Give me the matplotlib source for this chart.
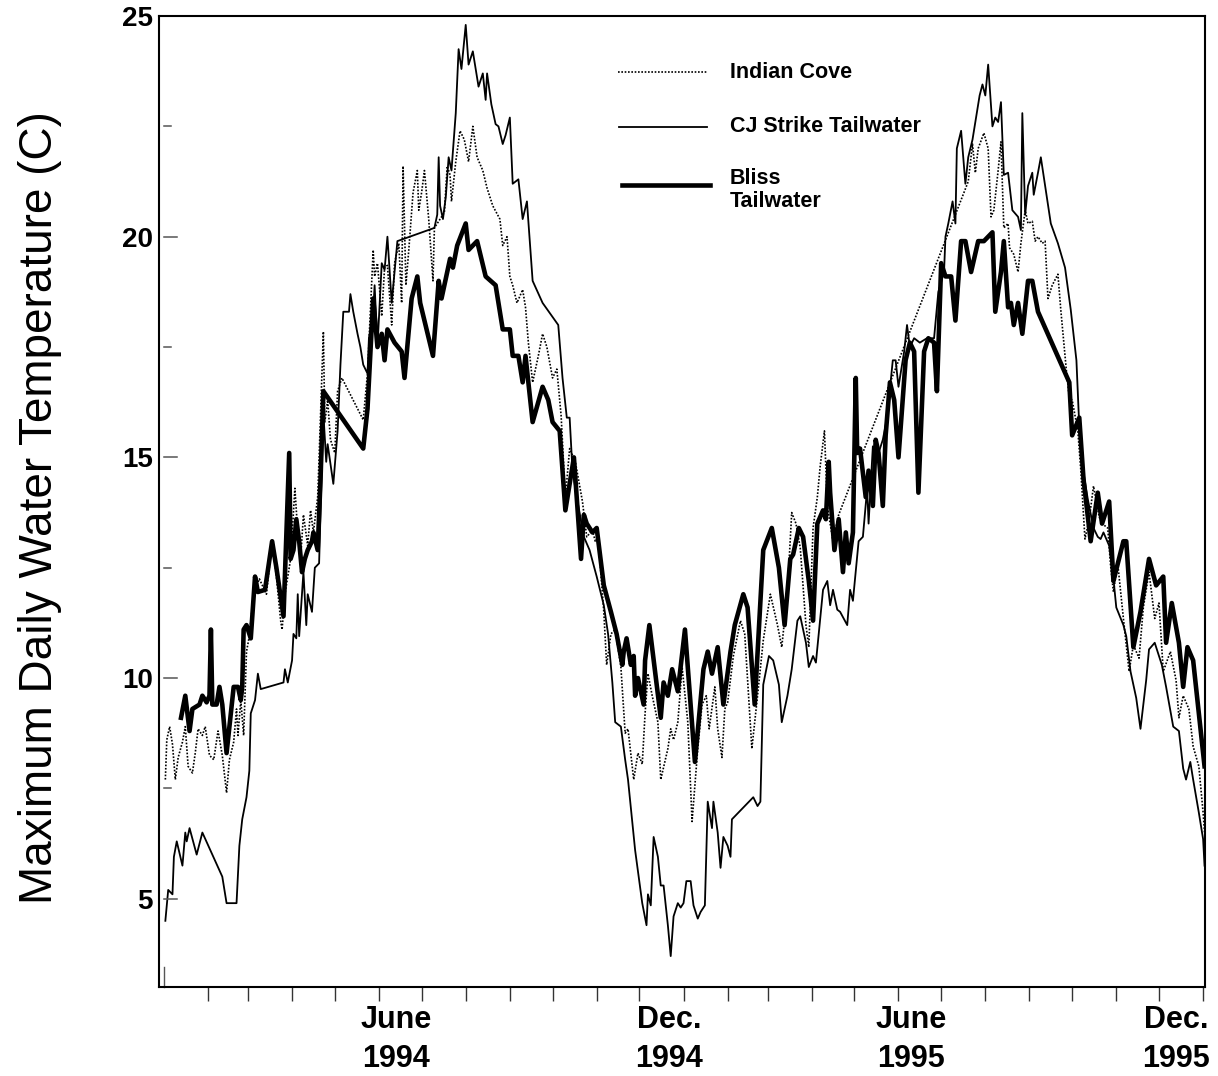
import matplotlib
matplotlib.use("Agg")
import matplotlib.pyplot as plt
import matplotlib.dates as mdates
from matplotlib.lines import Line2D
import pandas as pd

# Maximum daily water temperature at three Snake River sites, 1994-1995
# x values are days counted from 1 Jan 1994

cove_days = [1, 2, 4, 6, 8, 10, 13, 15, 17, 20, 22, 24, 27, 29, 32, 35, 38, 41, 44, 46, 49, 51, 52, 54, 56, 58, 60,
             63, 67, 72, 76, 79, 82, 83, 85, 89, 92, 94, 96, 98, 101, 103, 105, 108, 109, 112, 113, 115, 117, 120,
             122, 125, 140, 143, 147, 148, 150, 153, 155, 157, 160, 162, 165, 167, 168, 170, 172, 175, 178, 179,
             181, 183, 186, 189, 190, 194, 197, 199, 201, 202, 205, 208, 211, 214, 217, 220, 224, 227, 231, 236,
             238, 241, 243, 245, 248, 252, 254, 256, 259, 263, 266, 269, 273, 276, 279, 282, 285, 289, 294, 297,
             301, 303, 305, 309, 311, 314, 317, 321, 324, 326, 330, 333, 336, 338, 340, 343, 347, 349, 354, 356,
             358, 361, 364, 368, 371, 375, 378, 381, 383, 387, 389, 392, 394, 396, 400, 405, 408, 413, 417, 421,
             426, 431, 434, 438, 441, 444, 447, 451, 453, 456, 459, 461, 464, 466, 470, 474, 565, 568, 570, 572,
             576, 579, 581, 583, 586, 588, 590, 593, 594, 597, 600, 602, 605, 607, 610, 612, 614, 617, 619, 621,
             624, 628, 630, 634, 636, 638, 642, 644, 647, 650, 653, 657, 659, 663, 665, 667, 670, 674, 678, 681,
             685, 688, 692, 696, 699, 702, 707, 711, 713, 716, 720, 723, 727, 730, 731]
cove_temp = [7.7, 8.6, 8.9, 8.5, 7.7, 8.2, 8.55, 8.9, 8.0, 7.85, 8.3, 8.85, 8.7, 8.9, 8.25, 8.15, 8.8, 8.25, 7.4, 8.15,
             8.55, 9.3, 8.7, 9.5, 8.7, 10.6, 10.95, 11.9, 12.25, 11.9, 13.1, 12.3, 11.3, 11.1, 11.9, 12.7, 14.3,
             13.3, 12.7, 13.7, 13.0, 13.8, 13.3, 14.1, 15.0, 17.85, 15.8, 16.3, 15.4, 15.1, 16.5, 16.8, 15.85,
             16.9, 19.7, 19.1, 19.4, 18.2, 19.3, 19.35, 18.0, 19.4, 19.85, 18.5, 21.6, 18.9, 19.7, 21.0, 21.5,
             20.6, 21.0, 21.5, 20.4, 19.0, 20.2, 20.4, 20.55, 21.6, 21.4, 20.8, 21.7, 22.4, 22.2, 21.7, 22.5, 21.8,
             21.5, 21.1, 20.7, 20.4, 19.8, 20.0, 19.1, 18.9, 18.5, 18.8, 18.4, 17.6, 16.7, 17.3, 17.8, 17.5, 16.8,
             17.0, 15.95, 14.1, 15.2, 14.9, 14.0, 13.2, 13.35, 13.1, 13.2, 11.5, 10.3, 11.0, 11.1, 10.25, 8.75,
             8.85, 7.7, 8.3, 8.05, 9.2, 10.1, 9.6, 9.0, 7.7, 8.4, 8.85, 8.6, 9.0, 10.25, 9.0, 6.75, 8.4, 9.4, 9.6,
             8.85, 9.8, 8.85, 8.2, 9.3, 9.45, 10.5, 11.3, 11.0, 8.4, 9.6, 10.85, 11.9, 11.2, 10.7, 11.95, 13.75,
             13.5, 12.95, 11.2, 10.7, 13.4, 14.1, 14.8, 15.6, 13.9, 13.1, 13.7, 21.25, 22.1, 21.45, 22.0, 22.35,
             22.0, 20.45, 20.6, 21.5, 22.15, 20.2, 20.3, 19.75, 19.6, 19.2, 19.85, 20.6, 20.3, 20.35, 19.9, 20.0,
             19.85, 19.9, 18.6, 18.9, 19.15, 18.35, 16.95, 16.35, 16.3, 15.6, 14.75, 13.15, 13.6, 14.35, 13.65,
             13.5, 13.4, 12.55, 11.95, 12.6, 11.35, 10.15, 10.75, 10.45, 11.6, 12.4, 11.35, 11.7, 10.15, 10.6,
             9.95, 9.1, 9.6, 9.3, 8.45, 8.0, 6.95, 6.5]

cj_days = [1, 3, 6, 7, 9, 13, 15, 16, 18, 23, 27, 41, 44, 51, 53, 55, 58, 60, 61, 64, 66, 68, 84, 85, 87, 90, 91, 93,
           94, 95, 98, 100, 101, 104, 106, 109, 112, 114, 115, 119, 122, 124, 126, 130, 131, 133, 136, 138, 140,
           143, 144, 147, 148, 150, 153, 155, 157, 160, 164, 190, 192, 193, 194, 196, 198, 200, 202, 205, 207,
           209, 212, 214, 217, 221, 224, 226, 227, 230, 233, 235, 238, 240, 243, 245, 249, 252, 255, 259, 266,
           277, 280, 283, 285, 287, 290, 295, 299, 304, 309, 312, 315, 317, 321, 324, 326, 331, 336, 339, 340,
           342, 344, 347, 349, 351, 354, 356, 358, 361, 363, 365, 367, 370, 372, 375, 377, 380, 382, 385, 386,
           389, 391, 393, 396, 398, 399, 414, 417, 419, 421, 425, 428, 432, 434, 438, 441, 445, 447, 451, 453,
           456, 458, 460, 463, 466, 468, 470, 473, 475, 480, 482, 484, 488, 491, 494, 495, 498, 502, 505, 508,
           512, 514, 516, 520, 522, 524, 527, 531, 536, 541, 544, 548, 549, 551, 554, 556, 557, 560, 563, 565,
           568, 571, 573, 575, 577, 579, 582, 584, 586, 588, 590, 593, 596, 600, 602, 603, 605, 607, 610, 611,
           614, 616, 620, 623, 628, 633, 637, 641, 643, 646, 649, 653, 656, 658, 660, 664, 667, 669, 674, 676,
           679, 683, 686, 690, 692, 696, 701, 704, 709, 713, 716, 718, 721, 723, 727, 730, 731]
cj_temp = [4.5, 5.2, 5.1, 5.95, 6.3, 5.75, 6.5, 6.3, 6.6, 6.0, 6.5, 5.5, 4.9, 4.9, 6.2, 6.8, 7.3, 7.9, 9.2, 9.5,
           10.1, 9.75, 9.9, 10.2, 9.9, 10.4, 11.0, 10.9, 11.9, 10.95, 12.4, 11.2, 11.9, 11.5, 12.5, 12.6, 16.0,
           14.9, 15.3, 14.4, 15.6, 17.1, 18.3, 18.3, 18.7, 18.3, 17.8, 17.5, 17.1, 16.9, 17.7, 18.3, 18.9, 17.5,
           19.4, 19.25, 20.0, 18.5, 19.9, 20.2, 20.5, 21.8, 20.7, 20.4, 20.9, 21.8, 21.5, 22.8, 24.25, 23.8,
           24.8, 23.9, 24.2, 23.4, 23.7, 23.1, 23.7, 23.0, 22.55, 22.5, 22.1, 22.3, 22.7, 21.2, 21.3, 20.4,
           20.8, 19.0, 18.5, 18.0, 16.8, 15.9, 15.9, 14.7, 14.1, 13.2, 12.9, 12.3, 11.65, 11.0, 9.9, 9.0, 8.9,
           8.15, 7.7, 6.1, 4.9, 4.4, 5.1, 4.85, 6.4, 5.95, 5.3, 5.3, 4.4, 3.7, 4.6, 4.9, 4.8, 4.9, 5.4, 5.4,
           4.85, 4.55, 4.7, 4.85, 7.2, 6.6, 7.2, 6.5, 5.7, 6.4, 6.2, 5.95, 6.8, 7.3, 7.1, 7.2, 9.85, 10.5, 10.4,
           9.85, 9.0, 9.6, 10.2, 11.3, 11.4, 10.8, 10.25, 10.5, 10.35, 11.0, 12.0, 12.2, 11.65, 12.0, 11.55,
           11.5, 11.2, 12.0, 11.75, 13.1, 13.2, 14.3, 13.5, 15.25, 15.1, 15.4, 15.9, 17.2, 17.2, 16.6, 17.4,
           18.0, 17.5, 17.7, 17.6, 17.7, 17.7, 18.75, 19.2, 20.0, 20.3, 20.8, 20.3, 22.0, 22.4, 21.2, 21.8,
           22.2, 22.8, 23.2, 23.45, 23.2, 23.9, 22.5, 22.7, 22.6, 23.05, 21.4, 21.45, 20.6, 20.45, 20.15, 22.8,
           20.5, 21.15, 21.45, 20.95, 21.45, 21.8, 20.95, 20.3, 19.85, 19.3, 18.35, 17.2, 15.7, 14.65, 14.05,
           13.4, 13.2, 13.15, 13.3, 13.0, 12.25, 11.6, 11.2, 10.95, 10.15, 9.55, 8.85, 9.95, 10.65, 10.8, 10.3,
           9.8, 8.9, 8.8, 7.95, 7.7, 8.1, 7.7, 6.95, 6.35, 5.75]

bliss_days = [12, 15, 18, 20, 25, 27, 30, 32, 33, 34, 37, 39, 41, 44, 46, 49, 52, 54, 55, 56, 58, 61, 64, 66, 71,
              76, 79, 84, 88, 89, 91, 93, 95, 97, 99, 101, 104, 105, 108, 110, 112, 140, 143, 147, 150, 153, 155,
              157, 162, 167, 169, 174, 178, 180, 189, 193, 195, 201, 203, 206, 212, 214, 220, 226, 233, 235, 238,
              243, 245, 249, 252, 254, 259, 266, 270, 273, 278, 282, 288, 293, 295, 297, 301, 304, 309, 314, 318,
              322, 323, 325, 328, 330, 331, 333, 337, 338, 341, 349, 351, 354, 357, 361, 366, 373, 379, 382, 385,
              389, 393, 398, 401, 407, 410, 415, 421, 427, 432, 436, 440, 442, 446, 449, 453, 456, 459, 463, 465,
              467, 468, 471, 474, 477, 479, 481, 484, 486, 487, 489, 493, 495, 498, 500, 502, 505, 507, 510, 513,
              516, 521, 524, 527, 530, 534, 537, 541, 543, 546, 549, 553, 556, 560, 563, 567, 572, 576, 579, 582,
              584, 588, 590, 593, 595, 597, 600, 603, 607, 610, 614, 636, 638, 643, 646, 651, 656, 659, 664, 667,
              674, 676, 681, 686, 692, 697, 702, 704, 708, 713, 716, 719, 723, 726, 731]
bliss_temp = [9.1, 9.6, 8.8, 9.3, 9.4, 9.6, 9.45, 9.6, 11.1, 9.4, 9.4, 9.8, 9.4, 8.3, 8.9, 9.8, 9.8, 9.5, 9.8, 11.1,
              11.2, 10.9, 12.3, 11.95, 12.0, 13.1, 12.5, 11.4, 15.1, 12.7, 12.9, 13.6, 13.1, 12.4, 12.7, 12.9, 13.1,
              13.3, 12.9, 14.5, 16.5, 15.2, 16.1, 18.6, 17.5, 17.8, 17.2, 17.9, 17.6, 17.4, 16.8, 18.6, 19.1, 18.5,
              17.3, 19.0, 18.6, 19.5, 19.3, 19.8, 20.3, 19.7, 19.9, 19.1, 18.9, 18.5, 17.9, 17.9, 17.3, 17.3, 16.7,
              17.3, 15.8, 16.6, 16.3, 15.8, 15.6, 13.8, 15.0, 12.7, 13.7, 13.5, 13.3, 13.4, 12.1, 11.5, 11.0, 10.3,
              10.6, 10.9, 10.3, 10.5, 9.6, 10.0, 9.4, 10.4, 11.2, 9.1, 9.9, 9.6, 10.2, 9.7, 11.1, 8.1, 10.2, 10.6,
              10.1, 10.7, 9.4, 10.6, 11.2, 11.9, 11.6, 9.4, 12.9, 13.4, 12.5, 11.2, 12.7, 12.8, 13.4, 13.2, 12.2,
              11.3, 13.5, 13.8, 13.6, 14.9, 14.2, 12.9, 13.6, 12.4, 13.3, 12.6, 13.3, 16.8, 15.1, 15.2, 14.1, 14.7,
              13.9, 15.4, 15.1, 13.9, 15.5, 16.7, 16.3, 15.0, 17.2, 17.6, 17.4, 14.2, 17.4, 17.7, 17.6, 16.5, 19.4,
              19.1, 19.1, 18.1, 19.9, 19.9, 19.2, 19.9, 19.9, 20.0, 20.1, 18.3, 19.2, 19.9, 18.4, 18.5, 18.0, 18.5,
              17.8, 19.0, 19.0, 18.3, 16.7, 15.5, 15.9, 14.5, 13.1, 14.2, 13.5, 14.0, 12.2, 13.1, 13.1, 10.7, 11.5,
              12.7, 12.1, 12.3, 10.8, 11.7, 10.8, 9.8, 10.7, 10.4, 9.5, 8.0]

# axis decoration
y_major = [5, 10, 15, 20, 25]
y_minor = [7.5, 12.5, 17.5, 22.5]
month_labels = ["June", "Dec.", "June", "Dec."]
year_labels = ["1994", "1994", "1995", "1995"]
label_days = [163, 355, 525, 711]

start = pd.Timestamp("1994-01-01")


def day_num(days):
    return mdates.date2num(start + pd.to_timedelta(days, unit="D"))


bold = {"family": "Liberation Sans", "weight": "bold"}

fig = plt.figure(figsize=(12.18, 10.76), dpi=100)
ax = fig.add_axes([0.1305, 0.0827, 0.8588, 0.9024])

ax.plot(day_num(cove_days), cove_temp, color="black", lw=1.2, ls=(0, (1, 1)))
ax.plot(day_num(cj_days), cj_temp, color="black", lw=1.3)
ax.plot(day_num(bliss_days), bliss_temp, color="black", lw=3.3, solid_joinstyle="round")

ax.set_xlim(day_num(-3.5), day_num(731.3))
ax.set_ylim(3, 25)

for sp in ax.spines.values():
    sp.set_linewidth(1.5)

# monthly ticks below the axis, Jan 1994 marked inside
months = pd.date_range("1994-02-01", "1996-01-01", freq="MS")
ax.set_xticks(mdates.date2num(months))
ax.tick_params(axis="x", direction="out", length=10, width=1, color="#333333", labelbottom=False)
ax.plot([day_num(0)] * 2, [0, 0.021], transform=ax.get_xaxis_transform(), color="#555555", lw=1, clip_on=False)

# y ticks drawn just inside the frame
ax.set_yticks(y_major)
ax.set_yticklabels([str(v) for v in y_major], fontsize=20, **bold)
ax.tick_params(axis="y", length=0, pad=4.5)
for v in y_major:
    ax.plot([0.005, 0.017], [v, v], transform=ax.get_yaxis_transform(), color="#555555", lw=1.1)
for v in y_minor:
    ax.plot([0.005, 0.0115], [v, v], transform=ax.get_yaxis_transform(), color="#555555", lw=1.1)

xt = ax.get_xaxis_transform()
for d, m, y in zip(label_days, month_labels, year_labels):
    ax.text(day_num(d), -0.034, m, transform=xt, ha="center", va="center", fontsize=22, **bold)
    ax.text(day_num(d), -0.074, y, transform=xt, ha="center", va="center", fontsize=22, **bold)

fig.text(40 / 1218, 1 - 508 / 1076, "Maximum Daily Water Temperature (C)", rotation=90,
         ha="center", va="center", fontsize=33, family="Liberation Sans")

# legend
W, H = 1218, 1076
keys = [((618, 707, 72), dict(lw=1.2, ls=(0, (1, 1)))),
        ((619, 707, 127), dict(lw=1.3)),
        ((622, 710, 185), dict(lw=3.3))]
for (x0, x1, y), style in keys:
    fig.add_artist(Line2D([x0 / W, x1 / W], [1 - y / H, 1 - y / H], transform=fig.transFigure,
                          color="black", **style))
fig.text(730 / W, 1 - 72 / H, "Indian Cove", ha="left", va="center", fontsize=15.5, **bold)
fig.text(730 / W, 1 - 127 / H, "CJ Strike Tailwater", ha="left", va="center", fontsize=15.5, **bold)
fig.text(730 / W, 1 - 190 / H, "Bliss\nTailwater", ha="left", va="center", fontsize=15.5,
         linespacing=1.15, **bold)

fig.savefig("out.png", dpi=100)
